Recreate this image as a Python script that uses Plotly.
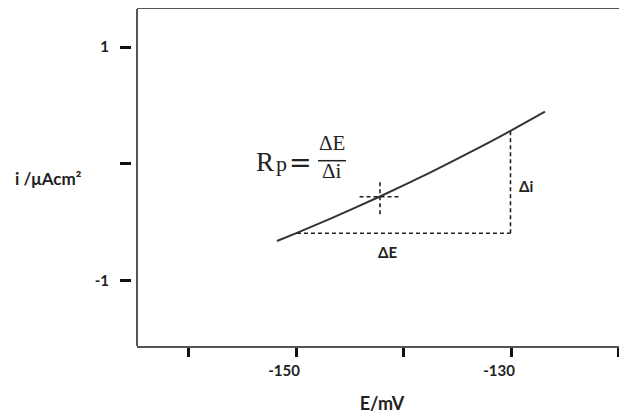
import plotly.graph_objects as go

# ---- data ----
E_curve = [-151.77, -149.91, -146.84, -142.19, -137.53, -132.88, -130.09, -126.84]
i_curve = [-0.658, -0.589, -0.469, -0.278, -0.074, 0.144, 0.281, 0.447]

dE_E = [-149.91, -130.05]        # ΔE dashed leg (E values)
dE_i = [-0.592, -0.592]
di_E = [-130.05, -130.05]        # Δi dashed leg
di_i = [-0.592, 0.281]

cross_E = -142.19                # operating point crosshair
cross_i = -0.28
cross_halfE = 1.9
cross_halfI = 0.15

x_tickvals = [-160, -150, -140, -130, -120]
x_ticktext = ["", "-150", "", "-130", ""]
y_tickvals = [1, 0, -1]
y_ticktext = ["1", "", "-1"]

FONT = "Lato"
DASH = dict(color="#222222", width=1.6, dash="4px,3px")
fig = go.Figure()

fig.add_trace(go.Scatter(x=E_curve, y=i_curve, mode="lines",
                         line=dict(color="#333333", width=2, shape="spline", smoothing=0.6),
                         showlegend=False, hoverinfo="skip"))
fig.add_trace(go.Scatter(x=dE_E, y=dE_i, mode="lines", line=DASH,
                         showlegend=False, hoverinfo="skip"))
fig.add_trace(go.Scatter(x=di_E, y=di_i, mode="lines", line=DASH,
                         showlegend=False, hoverinfo="skip"))
fig.add_trace(go.Scatter(x=[cross_E, cross_E], y=[cross_i - cross_halfI, cross_i + cross_halfI],
                         mode="lines", line=DASH, showlegend=False, hoverinfo="skip"))
fig.add_trace(go.Scatter(x=[cross_E - cross_halfE, cross_E + cross_halfE], y=[cross_i, cross_i],
                         mode="lines", line=DASH, showlegend=False, hoverinfo="skip"))

ann_font = dict(family=FONT, size=15, color="#222222", weight="bold")
serif = "Liberation Serif"
INK = "#222222"
annotations = [
    dict(x=-141.5, y=-0.756, text="ΔE", showarrow=False, font=ann_font,
         xanchor="center", yanchor="middle"),
    dict(x=-129.45, y=-0.188, text="Δi", showarrow=False, font=ann_font,
         xanchor="left", yanchor="middle"),
    # Rp = ΔE / Δi
    dict(x=-153.9, y=0.015, text="R", showarrow=False,
         font=dict(family=serif, size=27, color=INK), xanchor="left", yanchor="middle"),
    dict(x=-152.05, y=0.0, text="p", showarrow=False,
         font=dict(family=serif, size=22, color=INK), xanchor="left", yanchor="middle"),
    dict(x=-149.55, y=0.015, text="=", showarrow=False,
         font=dict(family="DejaVu Serif", size=27, color=INK), xanchor="center", yanchor="middle"),
    dict(x=-146.65, y=0.177, text="ΔE", showarrow=False,
         font=dict(family=serif, size=21, color=INK), xanchor="center", yanchor="middle"),
    dict(x=-146.65, y=-0.062, text="Δi", showarrow=False,
         font=dict(family=serif, size=21, color=INK), xanchor="center", yanchor="middle"),
    dict(xref="paper", yref="y", x=-0.238, y=-0.12, text="i /μAcm²", showarrow=False,
         font=dict(family=FONT, size=17, color=INK, weight="bold"),
         xanchor="left", yanchor="middle"),
]

shapes = [
    # fraction bar
    dict(type="line", xref="x", yref="y", x0=-147.95, x1=-145.35, y0=0.028, y1=0.028,
         line=dict(color=INK, width=1.5)),
    # left frame line
    dict(type="line", xref="paper", yref="paper", x0=0.0121, x1=0.0121, y0=0, y1=1,
         line=dict(color="#555555", width=2)),
]

# page body has an 8px margin: figure is sized to fill the rest of the window
fig.update_layout(
    width=619, height=406,
    margin=dict(l=123, r=0, t=1, b=68),
    paper_bgcolor="white", plot_bgcolor="white",
    annotations=annotations, shapes=shapes,
    xaxis=dict(domain=[0.0121, 1], range=[-164.79, -119.21], automargin=False,
               tickvals=x_tickvals, ticktext=x_ticktext,
               ticks="outside", ticklen=9, tickwidth=2.5, tickcolor="#111111",
               showline=True, linecolor="#555555", linewidth=2, mirror=True,
               showgrid=False, zeroline=False,
               tickfont=dict(family=FONT, size=15, color=INK, weight="bold"),
               ticklabelshift=-12, ticklabelstandoff=1,
               title=dict(text="E/mV", standoff=20,
                          font=dict(family=FONT, size=18, color=INK, weight="bold"))),
    yaxis=dict(anchor="free", position=0, range=[-1.556, 1.325], automargin=False,
               tickvals=y_tickvals, ticktext=y_ticktext,
               ticks="outside", ticklen=11, tickwidth=2.5, tickcolor="#111111",
               showline=False, showgrid=False, zeroline=False,
               tickfont=dict(family=FONT, size=15, color=INK, weight="bold"),
               ticklabelstandoff=8),
)

fig.write_html("out.html")
